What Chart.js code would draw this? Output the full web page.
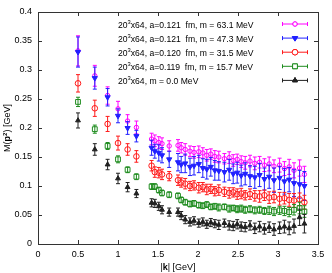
<!DOCTYPE html>
<html>
<head>
<meta charset="utf-8">
<script src="https://cdn.jsdelivr.net/npm/chart.js@4.4.1/dist/chart.umd.min.js"></script>
<style>
  html, body { margin: 0; padding: 0; background: #fff; }
  #chart { display: block; }
</style>
</head>
<body>
<canvas id="chart" width="332" height="273"></canvas>
<script>
// momenta |k| in GeV (same grid for all five ensembles)
const momenta = [0.50,0.71,0.87,1.00,1.12,1.23,1.42,1.46,1.51,1.55,1.64,1.75,1.79,1.84,1.90,1.95,2.01,2.06,2.11,2.16,2.21,2.26,2.33,2.39,2.44,2.49,2.54,2.59,2.65,2.71,2.77,2.83,2.89,2.95,3.02,3.08,3.14,3.20,3.27,3.33];

// M(p^2) values and errors, GeV
const m631 = [0.333,0.290,0.256,0.233,0.212,0.201,0.181,0.178,0.175,0.173,0.169,0.170,0.166,0.163,0.160,0.158,0.159,0.157,0.153,0.155,0.151,0.150,0.147,0.149,0.144,0.146,0.142,0.140,0.143,0.139,0.141,0.136,0.138,0.134,0.136,0.130,0.133,0.127,0.131,0.120];
const e631 = [0.026,0.018,0.015,0.013,0.011,0.011,0.010,0.010,0.010,0.010,0.009,0.010,0.009,0.010,0.009,0.010,0.010,0.009,0.010,0.009,0.010,0.010,0.009,0.010,0.010,0.009,0.010,0.011,0.010,0.011,0.010,0.011,0.012,0.011,0.012,0.012,0.013,0.013,0.014,0.014];

const m473 = [0.331,0.286,0.253,0.221,0.200,0.186,0.166,0.160,0.157,0.153,0.146,0.141,0.137,0.139,0.133,0.135,0.138,0.131,0.129,0.133,0.127,0.126,0.124,0.128,0.121,0.123,0.118,0.121,0.117,0.115,0.119,0.112,0.116,0.110,0.114,0.108,0.111,0.105,0.103,0.100];
const e473 = [0.026,0.019,0.015,0.012,0.011,0.010,0.013,0.012,0.014,0.013,0.014,0.015,0.014,0.016,0.015,0.016,0.015,0.016,0.017,0.016,0.017,0.016,0.017,0.018,0.017,0.018,0.018,0.019,0.018,0.019,0.020,0.019,0.020,0.021,0.020,0.022,0.021,0.023,0.024,0.025];

const m315 = [0.277,0.234,0.207,0.174,0.163,0.151,0.135,0.124,0.123,0.120,0.117,0.110,0.106,0.104,0.100,0.101,0.097,0.098,0.094,0.095,0.091,0.093,0.090,0.088,0.089,0.086,0.087,0.084,0.086,0.083,0.082,0.084,0.080,0.081,0.078,0.079,0.076,0.075,0.077,0.072];
const e315 = [0.015,0.014,0.013,0.012,0.010,0.010,0.009,0.009,0.009,0.009,0.008,0.009,0.008,0.009,0.008,0.008,0.009,0.008,0.009,0.008,0.008,0.009,0.008,0.009,0.008,0.009,0.009,0.008,0.009,0.009,0.010,0.009,0.010,0.010,0.011,0.010,0.011,0.012,0.011,0.012];

const m157 = [0.245,0.198,0.169,0.146,0.128,0.116,0.099,0.099,0.093,0.088,0.085,0.083,0.076,0.072,0.069,0.070,0.067,0.066,0.068,0.064,0.065,0.063,0.064,0.061,0.062,0.060,0.061,0.059,0.060,0.058,0.059,0.057,0.058,0.056,0.058,0.057,0.055,0.059,0.062,0.056];
const e157 = [0.008,0.007,0.006,0.006,0.005,0.005,0.005,0.005,0.005,0.005,0.005,0.005,0.005,0.005,0.005,0.005,0.005,0.005,0.005,0.005,0.005,0.006,0.005,0.006,0.005,0.006,0.006,0.006,0.006,0.006,0.006,0.006,0.007,0.007,0.007,0.008,0.008,0.009,0.010,0.010];

const m000 = [0.213,0.163,0.137,0.113,0.098,0.087,0.071,0.070,0.065,0.059,0.055,0.055,0.049,0.042,0.038,0.040,0.036,0.038,0.034,0.037,0.035,0.033,0.036,0.032,0.031,0.034,0.030,0.029,0.032,0.027,0.030,0.026,0.029,0.025,0.028,0.030,0.027,0.031,0.046,0.035];
const e000 = [0.013,0.010,0.009,0.009,0.008,0.007,0.007,0.007,0.007,0.007,0.007,0.007,0.007,0.007,0.007,0.007,0.007,0.007,0.007,0.007,0.007,0.008,0.007,0.008,0.008,0.008,0.008,0.008,0.008,0.009,0.009,0.009,0.009,0.010,0.010,0.011,0.011,0.012,0.014,0.016];

const xTicks = [0, 0.5, 1, 1.5, 2, 2.5, 3, 3.5];
const yTicks = [0, 0.05, 0.1, 0.15, 0.2, 0.25, 0.3, 0.35, 0.4];

// legend lines: a-part and mass part
const legendA = ["a=0.121  fm, ", "a=0.121  fm, ", "a=0.120  fm, ", "a=0.119  fm, ", ""];
const legendM = ["m = 63.1 MeV", "m = 47.3 MeV", "m = 31.5 MeV", "m = 15.7 MeV", "m = 0.0 MeV"];

const FONT = '"Liberation Sans", Arial, sans-serif';

function pts(vals) {
  return vals.map((v, i) => ({ x: momenta[i], y: v }));
}

const series = [
  { data: m631, err: e631, color: "#ff00ff", style: "circle", radius: 2.2, rot: 0, fill: false },
  { data: m473, err: e473, color: "#2020ff", style: "triangle", radius: 3, rot: 180, fill: true },
  { data: m315, err: e315, color: "#ff1a1a", style: "circle", radius: 2.8, rot: 0, fill: false },
  { data: m157, err: e157, color: "#1e8c1e", style: "rect", radius: 3.4, rot: 0, fill: false },
  { data: m000, err: e000, color: "#202020", style: "triangle", radius: 2.8, rot: 0, fill: true }
];

const datasets = series.map((s, i) => ({
  data: pts(s.data),
  errors: s.err,
  order: 5 - i,
  borderColor: s.color,
  backgroundColor: s.fill ? s.color : "rgba(0,0,0,0)",
  pointStyle: s.style,
  pointRadius: s.radius,
  pointRotation: s.rot,
  pointBorderWidth: 1,
  pointHoverRadius: s.radius,
  showLine: false
}));

// draws text pieces one after another: [text, size, bold, raise]
function drawPieces(ctx, pieces, x, y, align) {
  let total = 0;
  pieces.forEach(p => {
    ctx.font = (p[2] ? "bold " : "") + p[1] + "px " + FONT;
    total += ctx.measureText(p[0]).width;
  });
  let cx = align === "center" ? x - total / 2 : x;
  ctx.textAlign = "left";
  ctx.textBaseline = "alphabetic";
  pieces.forEach(p => {
    ctx.font = (p[2] ? "bold " : "") + p[1] + "px " + FONT;
    ctx.fillText(p[0], cx, y - p[3]);
    cx += ctx.measureText(p[0]).width;
  });
}

function drawMarker(ctx, s, x, y) {
  Chart.helpers.drawPoint(ctx, {
    pointStyle: s.style, radius: s.radius, rotation: s.rot, borderWidth: 1
  }, x, y);
  ctx.fill();
  ctx.stroke();
}

const errorBars = {
  id: "errorBars",
  beforeDatasetDraw(chart, args) {
    const ds = chart.data.datasets[args.index];
    const ys = chart.scales.y, xs = chart.scales.x;
    const ctx = chart.ctx;
    ctx.save();
    ctx.strokeStyle = ds.borderColor;
    ctx.lineWidth = 1;
    ds.data.forEach((p, i) => {
      const px = xs.getPixelForValue(p.x);
      const y1 = ys.getPixelForValue(p.y - ds.errors[i]);
      const y2 = ys.getPixelForValue(p.y + ds.errors[i]);
      ctx.beginPath();
      ctx.moveTo(px, y1); ctx.lineTo(px, y2);
      ctx.moveTo(px - 2, y1); ctx.lineTo(px + 2, y1);
      ctx.moveTo(px - 2, y2); ctx.lineTo(px + 2, y2);
      ctx.stroke();
    });
    ctx.restore();
  }
};

const frame = {
  id: "frame",
  afterDraw(chart) {
    const ctx = chart.ctx;
    const a = chart.chartArea;
    const xs = chart.scales.x, ys = chart.scales.y;
    ctx.save();
    ctx.strokeStyle = "#333";
    ctx.lineWidth = 1;
    ctx.beginPath();
    // inward ticks on all four sides
    xTicks.forEach(v => {
      const px = Math.round(xs.getPixelForValue(v)) + 0.5;
      ctx.moveTo(px, a.bottom); ctx.lineTo(px, a.bottom - 4);
      ctx.moveTo(px, a.top); ctx.lineTo(px, a.top + 4);
    });
    yTicks.forEach(v => {
      const py = Math.round(ys.getPixelForValue(v)) + 0.5;
      ctx.moveTo(a.left, py); ctx.lineTo(a.left + 4, py);
      ctx.moveTo(a.right, py); ctx.lineTo(a.right - 4, py);
    });
    ctx.stroke();
    ctx.strokeRect(Math.round(a.left) + 0.5, Math.round(a.top) + 0.5,
      Math.round(a.right - a.left), Math.round(a.bottom - a.top));

    // legend
    ctx.fillStyle = "#000";
    series.forEach((s, i) => {
      const y = 27.5 + i * 14.1;
      const pieces = [["20", 8.6, false, 0], ["3", 5.8, false, 3.5], ["x64, ", 8.6, false, 0]];
      if (legendA[i]) pieces.push([legendA[i], 8.6, false, 0]);
      pieces.push([legendM[i], 8.6, false, 0]);
      drawPieces(ctx, pieces, 118, y, "left");
      const cy = y - 3.5;
      ctx.strokeStyle = s.color;
      ctx.beginPath();
      ctx.moveTo(282, cy); ctx.lineTo(308, cy);
      ctx.moveTo(282.5, cy - 2); ctx.lineTo(282.5, cy + 2);
      ctx.moveTo(307.5, cy - 2); ctx.lineTo(307.5, cy + 2);
      ctx.stroke();
      ctx.fillStyle = s.fill ? s.color : "#fff";
      drawMarker(ctx, s, 295, cy);
      ctx.fillStyle = "#000";
    });

    // axis titles
    drawPieces(ctx, [["|", 9, false, 0], ["k", 9, true, 0], ["| [GeV]", 9, false, 0]],
      (a.left + a.right) / 2, 270, "center");
    ctx.translate(10, (a.top + a.bottom) / 2);
    ctx.rotate(-Math.PI / 2);
    drawPieces(ctx, [["M(", 9, false, 0], ["p", 9, true, 0], ["2", 6, true, 3.5], [") [GeV]", 9, false, 0]],
      0, 0, "center");
    ctx.restore();
  }
};

new Chart(document.getElementById("chart"), {
  type: "scatter",
  data: { datasets },
  options: {
    responsive: false,
    animation: false,
    devicePixelRatio: 1,
    layout: { padding: { left: 0, top: 12, right: 14, bottom: 0 } },
    plugins: { legend: { display: false }, tooltip: { enabled: false } },
    scales: {
      x: {
        type: "linear", min: 0, max: 3.5,
        afterFit: s => { s.height = 29; },
        afterBuildTicks: s => { s.ticks = xTicks.map(v => ({ value: v })); },
        grid: { display: false, drawTicks: false, tickLength: 0 },
        border: { display: false },
        ticks: { color: "#000", padding: 5, maxRotation: 0, font: { family: FONT, size: 9 },
          callback: v => String(v) }
      },
      y: {
        type: "linear", min: 0, max: 0.4,
        afterFit: s => { s.width = 38; },
        afterBuildTicks: s => { s.ticks = yTicks.map(v => ({ value: v })); },
        grid: { display: false, drawTicks: false, tickLength: 0 },
        border: { display: false },
        ticks: { color: "#000", padding: 6, font: { family: FONT, size: 9 },
          callback: v => String(+v.toFixed(2)) }
      }
    }
  },
  plugins: [errorBars, frame]
});
</script>
</body>
</html>
